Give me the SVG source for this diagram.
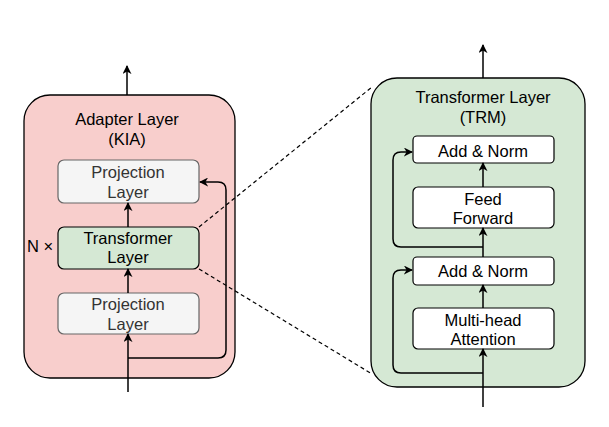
<svg xmlns="http://www.w3.org/2000/svg" width="609" height="427" viewBox="0 0 609 427">
<style>
text{font-family:"Liberation Sans",Arial,sans-serif;font-size:16.5px;text-anchor:middle;fill:#000}
.gt{fill:#333}
.proj{fill:#f5f5f5;stroke:#666;stroke-width:1.2}
.trm{fill:#d5e8d4;stroke:#000;stroke-width:1.2}
.wb{fill:#fff;stroke:#000;stroke-width:1.2}
.c{fill:none;stroke:#000;stroke-width:1.5}
.d{fill:none;stroke:#000;stroke-width:1.2;stroke-dasharray:4 3}
</style>
<defs>
<marker id="ah" viewBox="0 0 10 10" refX="9" refY="5" markerWidth="9" markerHeight="9" markerUnits="userSpaceOnUse" orient="auto">
<path d="M0,0 L10,5 L0,10 L3,5 Z" fill="#000"/>
</marker>
</defs>
<rect width="609" height="427" fill="#fff"/>
<g id="adapter">
<rect x="24" y="95" width="211" height="283" rx="26" fill="#f8cecc" stroke="#000" stroke-width="1.3"/>
<text x="127" y="125">Adapter Layer</text>
<text x="127" y="145">(KIA)</text>
</g>
<g id="proj-top">
<rect class="proj" x="58" y="160" width="141" height="43" rx="6"/>
<text class="gt" x="128" y="178">Projection</text>
<text class="gt" x="128" y="198">Layer</text>
</g>
<g id="trm-left">
<rect class="trm" x="58" y="227" width="141" height="42" rx="6"/>
<text x="128" y="244">Transformer</text>
<text x="128" y="263">Layer</text>
</g>
<text x="40" y="252">N ×</text>
<g id="proj-bottom">
<rect class="proj" x="58" y="293" width="141" height="41" rx="6"/>
<text class="gt" x="128" y="310">Projection</text>
<text class="gt" x="128" y="330">Layer</text>
</g>
<g id="trm-panel">
<rect x="371" y="78" width="214" height="309" rx="26" fill="#d5e8d4" stroke="#000" stroke-width="1.3"/>
<text x="483" y="103">Transformer Layer</text>
<text x="483" y="123">(TRM)</text>
</g>
<g id="addnorm-top">
<rect class="wb" x="413" y="136" width="141" height="27" rx="4"/>
<text x="483" y="157">Add &amp; Norm</text>
</g>
<g id="ffn">
<rect class="wb" x="413" y="187" width="141" height="41" rx="5"/>
<text x="483" y="205">Feed</text>
<text x="483" y="224">Forward</text>
</g>
<g id="addnorm-bottom">
<rect class="wb" x="413" y="257" width="141" height="28" rx="4"/>
<text x="483" y="277">Add &amp; Norm</text>
</g>
<g id="mha">
<rect class="wb" x="413" y="308" width="141" height="41" rx="5"/>
<text x="483" y="326">Multi-head</text>
<text x="483" y="345">Attention</text>
</g>
<g id="connectors">
<line class="c" x1="127" y1="95" x2="127" y2="66" marker-end="url(#ah)"/>
<line class="c" x1="128" y1="227" x2="128" y2="203" marker-end="url(#ah)"/>
<line class="c" x1="128" y1="293" x2="128" y2="269" marker-end="url(#ah)"/>
<line class="c" x1="128" y1="392" x2="128" y2="334" marker-end="url(#ah)"/>
<path class="c" d="M128,358 H218 Q226,358 226,350 V190 Q226,182 218,182 H200" marker-end="url(#ah)"/>
<line class="c" x1="483" y1="78" x2="483" y2="45" marker-end="url(#ah)"/>
<line class="c" x1="483" y1="407" x2="483" y2="349" marker-end="url(#ah)"/>
<line class="c" x1="483" y1="308" x2="483" y2="285" marker-end="url(#ah)"/>
<line class="c" x1="483" y1="257" x2="483" y2="228" marker-end="url(#ah)"/>
<line class="c" x1="483" y1="187" x2="483" y2="163" marker-end="url(#ah)"/>
<path class="c" d="M483,373 H401 Q393,373 393,365 V278 Q393,270 401,270 H412" marker-end="url(#ah)"/>
<path class="c" d="M483,247 H401 Q393,247 393,239 V160 Q393,152 401,152 H412" marker-end="url(#ah)"/>
<line class="d" x1="199" y1="227" x2="372" y2="87"/>
<line class="d" x1="199" y1="269" x2="372" y2="374"/>
</g>
</svg>
